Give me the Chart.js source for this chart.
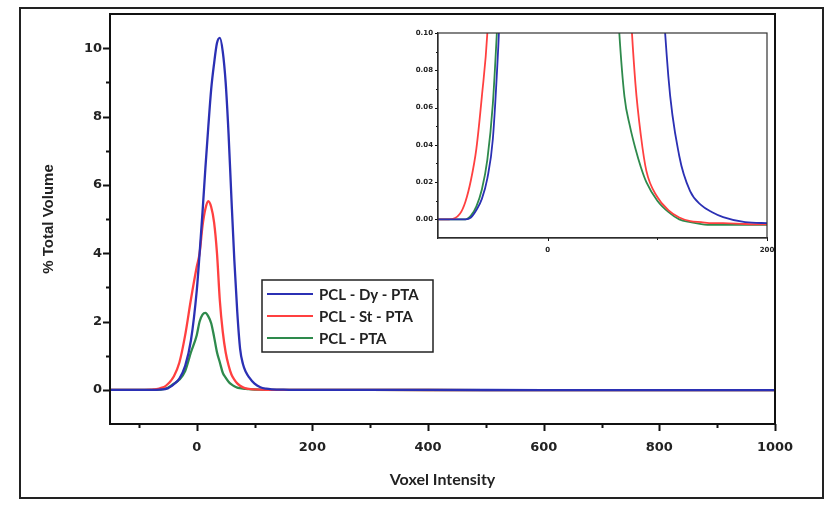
<!DOCTYPE html>
<html>
<head>
<meta charset="utf-8">
<script src="https://cdn.jsdelivr.net/npm/chart.js@4.4.1/dist/chart.umd.min.js"></script>
<style>
  html, body { margin: 0; padding: 0; background: #fff; }
  #wrap { position: relative; width: 826px; height: 508px; }
  #main { position: absolute; left: 0; top: 0; }
  #inset { position: absolute; left: 400px; top: 25px; }
</style>
</head>
<body>
<div id="wrap">
  <canvas id="main" width="826" height="508"></canvas>
  <canvas id="inset" width="395" height="245"></canvas>
</div>
<script>
// voxel intensity grid (x) and % total volume for each scaffold
const intensity = [-150, -100, -90, -80, -75, -70, -65, -60, -55, -50, -45, -40,
  -30, -20, -10, 0, 5, 10, 15, 20, 25, 30, 35, 40, 45, 50, 55, 60,
  65, 70, 75, 80, 85, 90, 100, 110, 120, 130, 140, 150, 160, 180, 200,
  300, 400, 500, 600, 700, 800, 900, 1000];

const pclDyPta = [0, 0, 0, 0, 0, 0.001, 0.005, 0.011, 0.022, 0.043, 0.093, 0.16,
  0.33, 0.7, 1.45, 2.9, 4.0, 5.2, 6.5, 7.7, 8.8, 9.55, 10.15, 10.3, 9.9, 9.0, 7.5, 5.6,
  3.8, 2.3, 1.2, 0.75, 0.52, 0.38, 0.18, 0.077, 0.034, 0.015, 0.0076, 0.0038, 0.0012, -0.0015, -0.002,
  -0.003, -0.004, -0.005, -0.006, -0.007, -0.008, -0.009, -0.01];

const pclStPta = [0, 0, 0, 0.003, 0.0095, 0.021, 0.038, 0.066, 0.1, 0.17, 0.26, 0.38,
  0.8, 1.6, 2.65, 3.6, 4.0, 4.8, 5.3, 5.52, 5.35, 4.9, 4.0, 2.6, 1.7, 1.1, 0.72, 0.45,
  0.3, 0.19, 0.12, 0.073, 0.045, 0.026, 0.012, 0.005, 0.001, -0.001, -0.0015, -0.002, -0.002, -0.0025, -0.0027,
  -0.004, -0.005, -0.006, -0.007, -0.008, -0.009, -0.0095, -0.01];

const pclPta = [0, 0, 0, 0, 0, 0.002, 0.007, 0.016, 0.032, 0.062, 0.115, 0.17,
  0.3, 0.55, 1.1, 1.6, 2.0, 2.2, 2.25, 2.15, 1.95, 1.55, 1.1, 0.8, 0.5, 0.36, 0.24, 0.16,
  0.103, 0.066, 0.05, 0.038, 0.028, 0.02, 0.01, 0.004, 0, -0.0015, -0.0025, -0.003, -0.003, -0.003, -0.003,
  -0.004, -0.005, -0.006, -0.007, -0.008, -0.009, -0.0095, -0.01];

const seriesNames = ["PCL - Dy - PTA", "PCL - St - PTA", "PCL - PTA"];
const seriesColors = ["#2b30b4", "#ff4040", "#2e8a4c"];

function buildDatasets(width) {
  return [pclDyPta, pclStPta, pclPta].map((vals, i) => ({
    label: seriesNames[i],
    data: intensity.map((x, j) => ({ x: x, y: vals[j] })),
    borderColor: seriesColors[i],
    backgroundColor: seriesColors[i],
    borderWidth: width,
    pointRadius: 0,
    fill: false,
    cubicInterpolationMode: "monotone",
  }));
}

// draws major / minor tick marks (major = has a label)
const tickMarks = {
  id: "tickMarks",
  afterDraw(chart, args, opts) {
    const ctx = chart.ctx;
    ctx.save();
    ctx.strokeStyle = "#111";
    ctx.lineWidth = opts.width;
    ["x", "y"].forEach((id) => {
      const s = chart.scales[id];
      s.ticks.forEach((t) => {
        const major = t.label !== "";
        if (!major && (t.value === s.min || t.value === s.max)) return;
        const len = major ? opts.major : opts.minor;
        const p = Math.round(s.getPixelForValue(t.value)) + 0.5;
        ctx.beginPath();
        if (id === "x") {
          ctx.moveTo(p, s.top);
          ctx.lineTo(p, s.top + len);
        } else {
          ctx.moveTo(s.right, p);
          ctx.lineTo(s.right - len, p);
        }
        ctx.stroke();
      });
    });
    ctx.restore();
  },
};

// closes the plot box on top and right
const plotBox = {
  id: "plotBox",
  afterDraw(chart, args, opts) {
    const a = chart.chartArea;
    const ctx = chart.ctx;
    ctx.save();
    ctx.strokeStyle = opts.color;
    ctx.lineWidth = opts.width;
    ctx.strokeRect(a.left, a.top, a.right - a.left, a.bottom - a.top);
    if (opts.frame) {
      ctx.lineWidth = 2;
      ctx.strokeStyle = "#222";
      ctx.strokeRect(20, 8, 803, 490);
    }
    ctx.restore();
  },
};

const legendBox = {
  id: "legendBox",
  afterDraw(chart) {
    const ctx = chart.ctx;
    ctx.save();
    ctx.fillStyle = "#fff";
    ctx.fillRect(262, 280, 171, 72);
    ctx.strokeStyle = "#222";
    ctx.lineWidth = 1.5;
    ctx.strokeRect(262, 280, 171, 72);
    ctx.font = "bold 15px Lato";
    ctx.textBaseline = "middle";
    chart.data.datasets.forEach((ds, i) => {
      const y = 294 + i * 22;
      ctx.strokeStyle = ds.borderColor;
      ctx.lineWidth = 2;
      ctx.beginPath();
      ctx.moveTo(267, y);
      ctx.lineTo(313, y);
      ctx.stroke();
      ctx.fillStyle = "#222";
      ctx.fillText(ds.label, 319, y + 1);
    });
    ctx.restore();
  },
};

Chart.defaults.color = "#222";

new Chart(document.getElementById("main"), {
  type: "line",
  data: { datasets: buildDatasets(2.3) },
  options: {
    responsive: false,
    animation: false,
    layout: { padding: { left: 36, right: 51, top: 14, bottom: 15 } },
    plugins: {
      legend: { display: false },
      tooltip: { enabled: false },
      tickMarks: { width: 2, major: 7, minor: 4 },
      plotBox: { color: "#111", width: 2, frame: true },
    },
    scales: {
      x: {
        type: "linear",
        min: -150,
        max: 1000,
        afterFit: (s) => { s.height = 69; },
        grid: { drawOnChartArea: false, color: "rgba(0,0,0,0)", tickLength: 7 },
        border: { color: "#111", width: 2 },
        ticks: {
          stepSize: 100,
          includeBounds: false,
          autoSkip: false,
          maxRotation: 0,
          padding: 9,
          font: { family: "DejaVu Sans", weight: "bold", size: 13 },
          callback: (v) => (v >= 0 && v % 200 === 0 ? String(v) : ""),
        },
        title: {
          display: true,
          text: "Voxel Intensity",
          font: { family: "Lato", weight: "bold", size: 16 },
          padding: { top: 4, bottom: 4 },
        },
      },
      y: {
        min: -1,
        max: 11,
        afterFit: (s) => { s.width = 74; },
        grid: { drawOnChartArea: false, color: "rgba(0,0,0,0)", tickLength: 7 },
        border: { color: "#111", width: 2 },
        ticks: {
          stepSize: 1,
          autoSkip: false,
          padding: 1,
          font: { family: "DejaVu Sans", weight: "bold", size: 13 },
          callback: (v) => (v >= 0 && v <= 10 && v % 2 === 0 ? String(v) : ""),
        },
        title: {
          display: true,
          text: "% Total Volume",
          font: { family: "Liberation Sans", weight: "bold", size: 15 },
          padding: { top: 4, bottom: 4 },
        },
      },
    },
  },
  plugins: [tickMarks, plotBox, legendBox],
});

// zoomed inset near the baseline
new Chart(document.getElementById("inset"), {
  type: "line",
  data: { datasets: buildDatasets(1.8).map((d) => ({ ...d, clip: 0 })) },
  options: {
    responsive: false,
    animation: false,
    layout: { padding: { left: 0, right: 28, top: 8, bottom: 2 } },
    plugins: {
      legend: { display: false },
      tooltip: { enabled: false },
      tickMarks: { width: 1, major: 3, minor: 2 },
      plotBox: { color: "#333", width: 1.2, frame: false },
    },
    scales: {
      x: {
        type: "linear",
        min: -100,
        max: 200,
        afterFit: (s) => { s.height = 30; },
        grid: { drawOnChartArea: false, color: "rgba(0,0,0,0)", tickLength: 3 },
        border: { color: "#222", width: 1.2 },
        ticks: {
          stepSize: 100,
          autoSkip: false,
          maxRotation: 0,
          padding: 5,
          font: { family: "DejaVu Sans", weight: "bold", size: 7 },
          callback: (v) => (v === 0 || v === 200 ? String(v) : ""),
        },
      },
      y: {
        min: -0.01,
        max: 0.1,
        afterFit: (s) => { s.width = 38; },
        grid: { drawOnChartArea: false, color: "rgba(0,0,0,0)", tickLength: 3 },
        border: { color: "#222", width: 1.2 },
        ticks: {
          stepSize: 0.01,
          autoSkip: false,
          padding: 2,
          font: { family: "DejaVu Sans", weight: "bold", size: 7 },
          callback: (v) => {
            const k = Math.round(v * 100);
            return k >= 0 && k % 2 === 0 ? (k / 100).toFixed(2) : "";
          },
        },
      },
    },
  },
  plugins: [tickMarks, plotBox],
});
</script>
</body>
</html>
